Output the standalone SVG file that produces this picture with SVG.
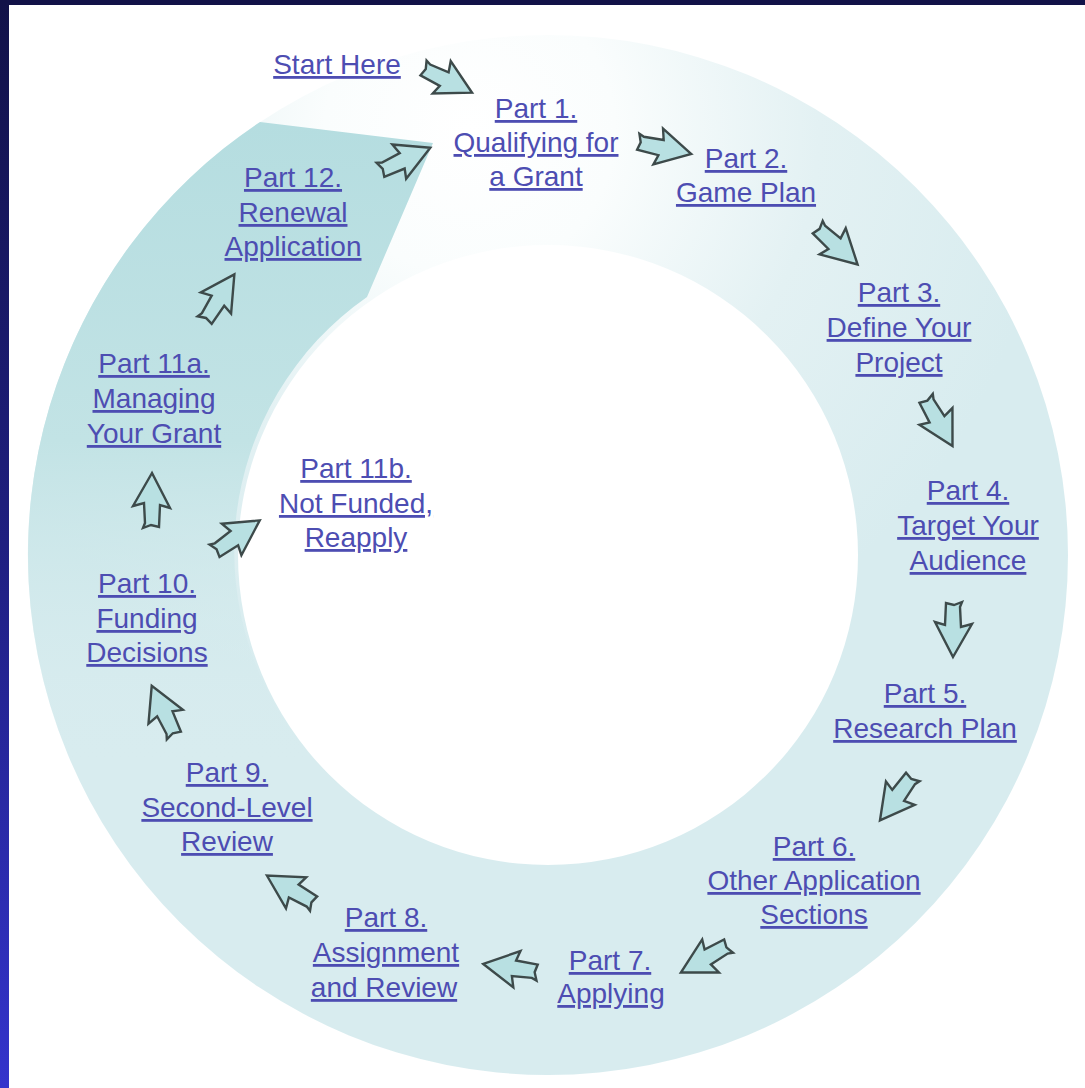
<svg xmlns="http://www.w3.org/2000/svg" width="1085" height="1088" viewBox="0 0 1085 1088">
<style>
.lbl{font-family:"Liberation Sans",Arial,sans-serif;font-size:28px;fill:#4d4db2;text-anchor:middle;text-decoration:underline;}
.arr{fill:#b8e0e2;stroke:#3d4a4a;stroke-width:2.4;stroke-linejoin:miter;}
</style>
<defs>
<linearGradient id="side" x1="0" y1="0" x2="0" y2="1">
<stop offset="0" stop-color="#121248"/>
<stop offset="0.5" stop-color="#1f1f80"/>
<stop offset="1" stop-color="#3434cc"/>
</linearGradient>
<radialGradient id="ringG" gradientUnits="userSpaceOnUse" cx="470" cy="130" r="580">
<stop offset="0" stop-color="#ffffff"/>
<stop offset="0.25" stop-color="#fafdfd"/>
<stop offset="0.6" stop-color="#e3f1f3"/>
<stop offset="1" stop-color="#d8ecef"/>
</radialGradient>
<linearGradient id="wedgeG" gradientUnits="userSpaceOnUse" x1="0" y1="122" x2="0" y2="760">
<stop offset="0" stop-color="#b5dde0"/>
<stop offset="0.5" stop-color="#c2e3e5"/>
<stop offset="1" stop-color="#d6ebee" stop-opacity="0"/>
</linearGradient>
<path id="arrow" d="M29,0 L-4,-19 L-1,-8 L-21,-7 L-26,-9 L-23,-1 L-25,7 L-3,8 L-6,18 Z"/>
</defs>
<rect x="0" y="0" width="1085" height="1088" fill="#ffffff"/>
<rect x="0" y="0" width="1085" height="5" fill="#121248"/>
<rect x="0" y="0" width="9" height="1088" fill="url(#side)"/>
<g id="ring">
<path fill="url(#ringG)" fill-rule="evenodd" d="M28,555 a520,520 0 1,0 1040,0 a520,520 0 1,0 -1040,0 Z M238,555 a310,310 0 1,0 620,0 a310,310 0 1,0 -620,0 Z"/>
<path fill="url(#wedgeG)" d="M260,122 A520,520 0 0,0 70,760 L315,760 A310,310 0 0,1 367,297 L433,143 Z"/>
</g>
<g id="connectors">
<use href="#arrow" class="arr" transform="translate(446,80) rotate(26)"/>
<use href="#arrow" class="arr" transform="translate(663,148) rotate(12)"/>
<use href="#arrow" class="arr" transform="translate(836,245) rotate(42)"/>
<use href="#arrow" class="arr" transform="translate(938,421) rotate(60)"/>
<use href="#arrow" class="arr" transform="translate(953,628) rotate(90)"/>
<use href="#arrow" class="arr" transform="translate(897,797) rotate(126)"/>
<use href="#arrow" class="arr" transform="translate(706,958) rotate(150)"/>
<use href="#arrow" class="arr" transform="translate(512,968) rotate(188)"/>
<use href="#arrow" class="arr" transform="translate(292,890) rotate(210)"/>
<use href="#arrow" class="arr" transform="translate(164,712) rotate(245)"/>
<use href="#arrow" class="arr" transform="translate(152,502) rotate(270)"/>
<use href="#arrow" class="arr" transform="translate(236,537) rotate(325)"/>
<use href="#arrow" class="arr" transform="translate(219,299) rotate(302)"/>
<use href="#arrow" class="arr" transform="translate(404,160) rotate(335)"/>
</g>
<g id="start"><text class="lbl" x="337" y="74">Start Here</text></g>
<g id="part1">
<text class="lbl" x="536" y="118">Part 1.</text>
<text class="lbl" x="536" y="152">Qualifying for</text>
<text class="lbl" x="536" y="186">a Grant</text>
</g>
<g id="part2">
<text class="lbl" x="746" y="168">Part 2.</text>
<text class="lbl" x="746" y="202">Game Plan</text>
</g>
<g id="part3">
<text class="lbl" x="899" y="302">Part 3.</text>
<text class="lbl" x="899" y="337">Define Your</text>
<text class="lbl" x="899" y="372">Project</text>
</g>
<g id="part4">
<text class="lbl" x="968" y="500">Part 4.</text>
<text class="lbl" x="968" y="535">Target Your</text>
<text class="lbl" x="968" y="570">Audience</text>
</g>
<g id="part5">
<text class="lbl" x="925" y="703">Part 5.</text>
<text class="lbl" x="925" y="738">Research Plan</text>
</g>
<g id="part6">
<text class="lbl" x="814" y="856">Part 6.</text>
<text class="lbl" x="814" y="890">Other Application</text>
<text class="lbl" x="814" y="924">Sections</text>
</g>
<g id="part7">
<text class="lbl" x="610" y="970">Part 7.</text>
<text class="lbl" x="611" y="1003">Applying</text>
</g>
<g id="part8">
<text class="lbl" x="386" y="927">Part 8.</text>
<text class="lbl" x="386" y="962">Assignment</text>
<text class="lbl" x="384" y="997">and Review</text>
</g>
<g id="part9">
<text class="lbl" x="227" y="782">Part 9.</text>
<text class="lbl" x="227" y="817">Second-Level</text>
<text class="lbl" x="227" y="851">Review</text>
</g>
<g id="part10">
<text class="lbl" x="147" y="593">Part 10.</text>
<text class="lbl" x="147" y="628">Funding</text>
<text class="lbl" x="147" y="662">Decisions</text>
</g>
<g id="part11a">
<text class="lbl" x="154" y="373">Part 11a.</text>
<text class="lbl" x="154" y="408">Managing</text>
<text class="lbl" x="154" y="443">Your Grant</text>
</g>
<g id="part11b">
<text class="lbl" x="356" y="478">Part 11b.</text>
<text class="lbl" x="356" y="513">Not Funded,</text>
<text class="lbl" x="356" y="547">Reapply</text>
</g>
<g id="part12">
<text class="lbl" x="293" y="187">Part 12.</text>
<text class="lbl" x="293" y="222">Renewal</text>
<text class="lbl" x="293" y="256">Application</text>
</g>
</svg>
